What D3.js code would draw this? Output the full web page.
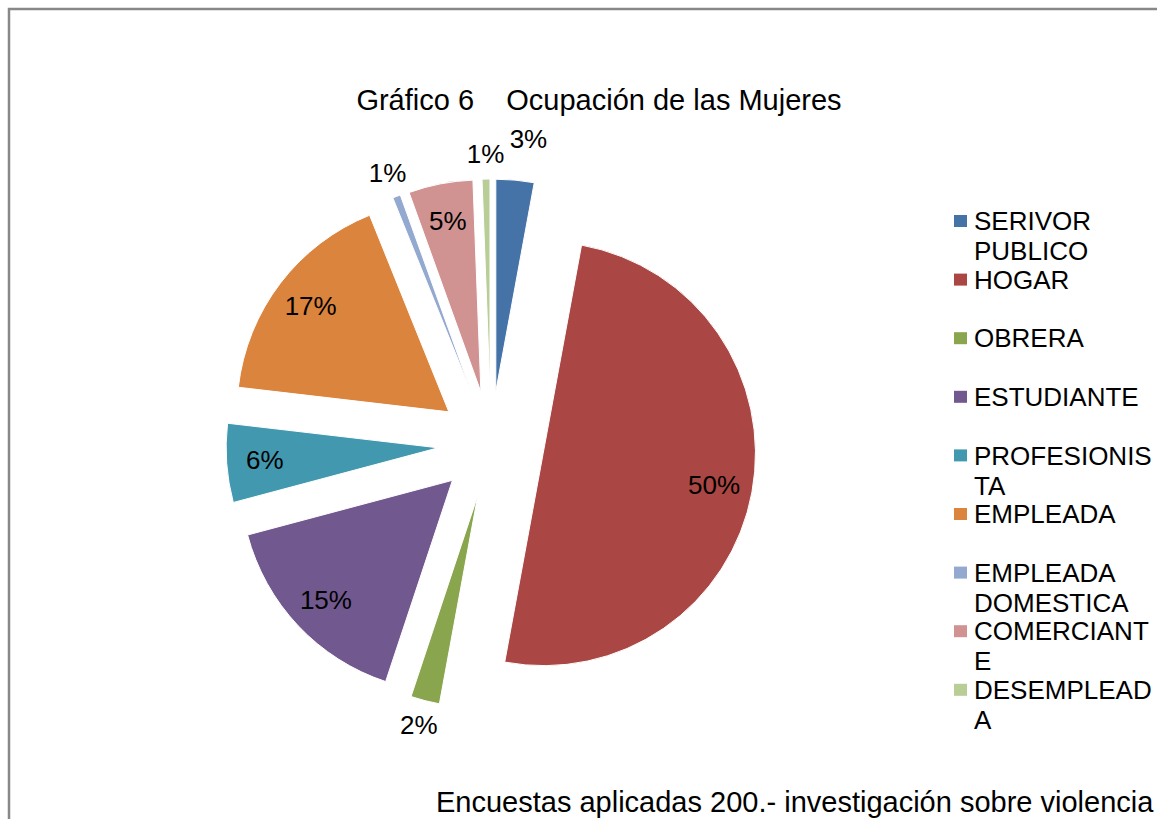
<!DOCTYPE html>
<html>
<head>
<meta charset="utf-8">
<script src="https://d3js.org/d3.v7.min.js"></script>
<style>
    body { margin: 0; padding: 0; background: #fff; }
    svg { display: block; font-family: 'Liberation Sans', Arial, sans-serif; }
</style>
</head>
<body>
<div id="chart"></div>
<script>
    // categories
    var categories = ["SERIVOR PUBLICO", "HOGAR", "OBRERA", "ESTUDIANTE", "PROFESIONISTA",
                      "EMPLEADA", "EMPLEADA DOMESTICA", "COMERCIANTE", "DESEMPLEADA"];
    // slice shares as measured from the slice angles (percent)
    var values = [2.9, 50, 2.2, 15.75, 6.0, 17.05, 0.6, 4.9, 0.6];
    // data labels as printed on the chart
    var labels = ["3%", "50%", "2%", "15%", "6%", "17%", "1%", "5%", "1%"];
    var colors = ["#4572A7", "#AA4643", "#89A54E", "#71588F", "#4198AF",
                  "#DB843D", "#93A9CF", "#D19392", "#B9CD96"];
    // legend text as it wraps in the original
    var legendLines = [["SERIVOR", "PUBLICO"], ["HOGAR"], ["OBRERA"], ["ESTUDIANTE"],
                       ["PROFESIONIS", "TA"], ["EMPLEADA"], ["EMPLEADA", "DOMESTICA"],
                       ["COMERCIANT", "E"], ["DESEMPLEAD", "A"]];
    var title = "Gráfico 6    Ocupación de las Mujeres";
    var footer = "Encuestas aplicadas 200.- investigación sobre violencia";

    var W = 1157, H = 819;
    var svg = d3.select("#chart").append("svg")
        .attr("width", W)
        .attr("height", H);

    // frame of the chart area
    svg.append("rect")
        .attr("x", 9).attr("y", 9)
        .attr("width", W + 20).attr("height", H + 20)
        .attr("fill", "#fff")
        .attr("stroke", "#888")
        .attr("stroke-width", 2.5);

    svg.append("text")
        .attr("x", 599).attr("y", 110)
        .attr("text-anchor", "middle")
        .attr("font-size", 29)
        .style("white-space", "pre")
        .text(title);

    var cx = 491, cy = 444;
    var R = 212, explode = 53;

    var pie = d3.pie().sort(null).value(function (d) { return d; });
    var arcs = pie(values);
    var arc = d3.arc().innerRadius(0).outerRadius(R);

    function mid(d) { return (d.startAngle + d.endAngle) / 2; }
    function dir(a) { return [Math.sin(a), -Math.cos(a)]; }

    var g = svg.append("g").attr("transform", "translate(" + cx + "," + cy + ")");

    g.selectAll("path.slice")
        .data(arcs)
        .enter().append("path")
        .attr("class", "slice")
        .attr("transform", function (d) {
            var v = dir(mid(d));
            return "translate(" + (v[0] * explode) + "," + (v[1] * explode) + ")";
        })
        .attr("d", arc)
        .attr("fill", function (d, i) { return colors[i]; })
        .attr("stroke", "#fff")
        .attr("stroke-width", 1);

    // labels: big slices inside, small ones outside
    var placed = [];
    var order = arcs.slice().sort(function (a, b) { return a.value - b.value; });
    order.forEach(function (d) {
        var v = dir(mid(d));
        var x, y;
        if (d.value >= 4) {
            x = v[0] * (explode + R * 0.82);
            y = v[1] * (explode + R * 0.82);
        } else {
            var r0 = R + explode + 25, r = r0;
            x = v[0] * r; y = v[1] * r;
            // push outward while it collides with a label already placed
            var tries = 0;
            while (tries < 30 && placed.some(function (p) {
                return Math.abs(p[0] - x) < 42 && Math.abs(p[1] - y) < 24;
            })) {
                r += 2; x = v[0] * r + (r - r0) * 0.6; y = v[1] * r; tries++;
            }
            placed.push([x, y]);
        }
        g.append("text")
            .attr("x", x).attr("y", y)
            .attr("dy", "0.35em")
            .attr("text-anchor", "middle")
            .attr("font-size", 26)
            .attr("fill", "#000")
            .text(labels[d.index]);
    });

    // legend
    var lg = svg.append("g").attr("class", "legend");
    legendLines.forEach(function (lines, i) {
        var y = 221 + i * 58.6;
        lg.append("rect")
            .attr("x", 954).attr("y", y - 6)
            .attr("width", 13).attr("height", 12)
            .attr("fill", colors[i]);
        var t = lg.append("text")
            .attr("x", 974).attr("y", y)
            .attr("font-size", 26)
            .attr("fill", "#000");
        lines.forEach(function (s, j) {
            t.append("tspan").attr("x", 974).attr("dy", j == 0 ? "0.35em" : 30).text(s);
        });
    });

    svg.append("text")
        .attr("x", 436).attr("y", 812)
        .attr("font-size", 29)
        .text(footer);
</script>
</body>
</html>
